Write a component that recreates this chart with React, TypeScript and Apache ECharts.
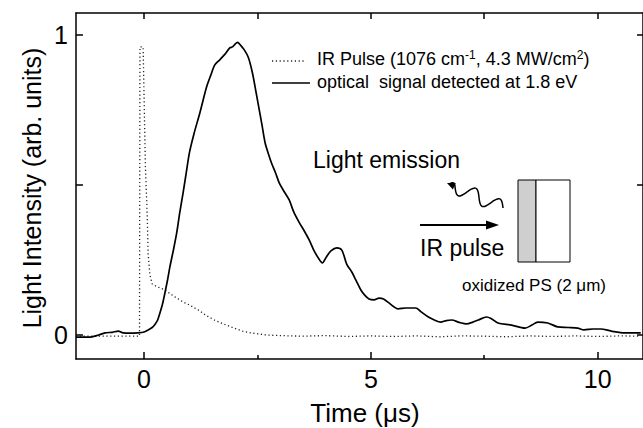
import React, { useEffect, useRef } from "react";
import * as echarts from "echarts";

// ---- data ----
const solidT = [-1.5, -1.3, -1.18, -1.0, -0.86, -0.7, -0.57, -0.46, -0.3, -0.15, 0.0, 0.09, 0.18, 0.24, 0.3, 0.35, 0.41, 0.46, 0.52, 0.57, 0.65, 0.72, 0.79, 0.86, 0.93, 1.0, 1.1, 1.23, 1.38, 1.47, 1.56, 1.67, 1.78, 1.89, 1.95, 2.0, 2.06, 2.13, 2.21, 2.3, 2.39, 2.48, 2.54, 2.6, 2.67, 2.75, 2.81, 2.9, 2.98, 3.08, 3.2, 3.3, 3.42, 3.52, 3.64, 3.75, 3.85, 3.93, 4.02, 4.12, 4.25, 4.36, 4.47, 4.58, 4.67, 4.78, 4.87, 4.96, 5.07, 5.18, 5.28, 5.39, 5.5, 5.6, 5.77, 5.99, 6.1, 6.27, 6.4, 6.54, 6.66, 6.78, 6.95, 7.11, 7.25, 7.37, 7.55, 7.65, 7.8, 8.1, 8.4, 8.55, 8.68, 8.9, 9.12, 9.35, 9.56, 9.7, 9.9, 10.07, 10.3, 10.6, 10.95];
const solidV = [-0.007, -0.007, -0.007, 0.0, 0.007, 0.009, 0.013, 0.007, 0.006, 0.007, 0.01, 0.017, 0.025, 0.035, 0.05, 0.073, 0.105, 0.14, 0.185, 0.227, 0.285, 0.34, 0.41, 0.473, 0.54, 0.607, 0.67, 0.74, 0.827, 0.865, 0.9, 0.917, 0.935, 0.957, 0.96, 0.968, 0.975, 0.965, 0.95, 0.925, 0.873, 0.8, 0.75, 0.7, 0.64, 0.6, 0.573, 0.54, 0.507, 0.48, 0.45, 0.41, 0.375, 0.35, 0.317, 0.28, 0.255, 0.24, 0.26, 0.28, 0.29, 0.283, 0.235, 0.21, 0.183, 0.15, 0.132, 0.12, 0.117, 0.123, 0.12, 0.108, 0.095, 0.087, 0.09, 0.09, 0.078, 0.06, 0.05, 0.043, 0.048, 0.05, 0.042, 0.037, 0.043, 0.05, 0.06, 0.055, 0.04, 0.033, 0.023, 0.033, 0.043, 0.04, 0.027, 0.025, 0.023, 0.017, 0.02, 0.02, 0.013, 0.007, 0.007];

const pulseT = [-1.5, -1.0, -0.5, -0.1, -0.09, -0.02, 0.0, 0.03, 0.07, 0.09, 0.13, 0.18, 0.3, 0.46, 0.65, 0.86, 1.0, 1.2, 1.37, 1.55, 1.73, 1.95, 2.17, 2.4, 2.7, 3.0, 3.5, 4.0, 4.5, 5.0, 5.5, 6.0, 6.5, 7.0, 7.5, 8.0, 8.5, 9.0, 9.5, 10.0, 10.5, 10.95];
const pulseV = [-0.004, -0.004, -0.004, -0.004, 0.96, 0.96, 0.8, 0.56, 0.4, 0.27, 0.2, 0.17, 0.16, 0.15, 0.13, 0.11, 0.1, 0.083, 0.065, 0.05, 0.038, 0.025, 0.013, 0.006, 0.0, -0.002, -0.004, -0.002, -0.005, -0.003, -0.005, -0.003, -0.006, -0.003, -0.004, -0.006, -0.003, -0.005, -0.003, -0.005, -0.003, -0.004];

const xMajorTicks = [0, 5, 10];
const xMinorTicks = [2.5, 7.5];
const xAllTicks = [0, 2.5, 5, 7.5, 10];
const yTicks = [0, 0.5, 1];
const yLabels = [0, 1];

const seriesNames = ["IR Pulse", "optical signal detected at 1.8 eV"];

const FONT = '"Liberation Sans", Arial, Helvetica, sans-serif';

function wavyPoints(): number[][] {
  const ax = 449, ay = 184, bx = 503, by = 208;
  const dx = ax - bx, dy = ay - by;
  const L = Math.sqrt(dx * dx + dy * dy);
  const ux = dx / L, uy = dy / L;
  const px = -uy, py = ux;
  const pts: number[][] = [];
  const n = 80;
  for (let i = 0; i <= n; i++) {
    const s = i / n;
    const env = s > 0.9 ? (1 - s) / 0.1 : 1;
    const amp = 7 * Math.sin(2 * Math.PI * 2.25 * s) * env;
    pts.push([bx + s * dx + amp * px, by + s * dy + amp * py]);
  }
  return pts;
}

export default function App() {
  const ref = useRef<HTMLDivElement>(null);
  useEffect(() => {
    if (!ref.current) return;
    const chart = echarts.init(ref.current, undefined, { renderer: "svg" });
    const solid = solidT.map((t, i) => [t, solidV[i]]);
    const pulse = pulseT.map((t, i) => [t, pulseV[i]]);
    const axisLineStyle = { color: "#000", width: 1.5 };
    const xBase = { type: "value", min: -1.5, max: 11, splitLine: { show: false } };
    const yBase = { type: "value", min: -0.08, max: 1.073, splitLine: { show: false } };

    const ax = 447, ay = 183;
    const ux = -0.914, uy = -0.406;
    const head = [
      [ax, ay],
      [ax - 8 * ux - 3.5 * uy, ay - 8 * uy + 3.5 * ux],
      [ax - 8 * ux + 3.5 * uy, ay - 8 * uy - 3.5 * ux],
    ];

    chart.setOption({
      animation: false,
      backgroundColor: "#fff",
      grid: { left: 76, top: 13, width: 570, height: 346 },
      xAxis: [
        {
          ...xBase, position: "bottom",
          axisLine: { show: true, onZero: false, lineStyle: axisLineStyle },
          axisTick: { show: true, inside: true, length: 7, customValues: xMajorTicks, lineStyle: { color: "#000", width: 1.5 } },
          axisLabel: { show: true, customValues: xMajorTicks, fontSize: 25, color: "#000", fontFamily: FONT, margin: 7 },
        },
        {
          ...xBase, position: "bottom",
          axisLine: { show: false, onZero: false },
          axisTick: { show: true, inside: true, length: 4, customValues: xMinorTicks, lineStyle: { color: "#000", width: 1.5 } },
          axisLabel: { show: false },
        },
        {
          ...xBase, position: "top",
          axisLine: { show: true, onZero: false, lineStyle: axisLineStyle },
          axisTick: { show: true, inside: true, length: 6, customValues: xAllTicks, lineStyle: { color: "#000", width: 1.5 } },
          axisLabel: { show: false },
        },
      ],
      yAxis: [
        {
          ...yBase, position: "left",
          axisLine: { show: true, onZero: false, lineStyle: axisLineStyle },
          axisTick: { show: true, inside: true, length: 7, customValues: yTicks, lineStyle: { color: "#000", width: 1.5 } },
          axisLabel: { show: true, customValues: yLabels, fontSize: 25, color: "#000", fontFamily: FONT, margin: 8 },
        },
        {
          ...yBase, position: "right",
          axisLine: { show: true, onZero: false, lineStyle: axisLineStyle },
          axisTick: { show: true, inside: true, length: 6, customValues: yTicks, lineStyle: { color: "#000", width: 1.5 } },
          axisLabel: { show: false },
        },
      ],
      series: [
        {
          name: seriesNames[0], type: "line", data: pulse, showSymbol: false, symbol: "none",
          xAxisIndex: 0, yAxisIndex: 0,
          lineStyle: { color: "#222", width: 1.3, type: [1.2, 2.6] },
        },
        {
          name: seriesNames[1], type: "line", data: solid, showSymbol: false, symbol: "none", smooth: 0.3,
          xAxisIndex: 0, yAxisIndex: 0,
          lineStyle: { color: "#000", width: 1.7 },
        },
      ],
      graphic: [
        { type: "line", shape: { x1: 272, y1: 61, x2: 305, y2: 61 }, style: { stroke: "#222", lineWidth: 1.3, lineDash: [1.2, 2.6] } },
        { type: "line", shape: { x1: 272, y1: 83, x2: 310, y2: 83 }, style: { stroke: "#000", lineWidth: 1.7 } },
        {
          type: "text", x: 317, y: 59,
          style: {
            text: "IR Pulse (1076 cm{sup|-1}, 4.3 MW/cm{sup|2})",
            fill: "#000", fontSize: 18, fontFamily: FONT, align: "left", verticalAlign: "middle",
            rich: { sup: { fontSize: 12, fontFamily: FONT, fill: "#000", verticalAlign: "top", padding: [0, 0, 8, 0] } },
          },
        },
        {
          type: "text", x: 317, y: 82,
          style: { text: "optical  signal detected at 1.8 eV", fill: "#000", fontSize: 18, fontFamily: FONT, align: "left", verticalAlign: "middle" },
        },
        { type: "text", x: 313, y: 160, style: { text: "Light emission", fill: "#000", fontSize: 23, fontFamily: FONT, align: "left", verticalAlign: "middle" } },
        { type: "polyline", shape: { points: wavyPoints(), smooth: 0.3 }, style: { stroke: "#000", fill: null, lineWidth: 1.5 } },
        { type: "polygon", shape: { points: head }, style: { fill: "#000" } },
        { type: "line", shape: { x1: 420, y1: 225, x2: 490, y2: 225 }, style: { stroke: "#000", lineWidth: 2.2 } },
        { type: "polygon", shape: { points: [[499, 225], [486, 220.5], [486, 229.5]] }, style: { fill: "#000" } },
        { type: "text", x: 420, y: 248, style: { text: "IR pulse", fill: "#000", fontSize: 23, fontFamily: FONT, align: "left", verticalAlign: "middle" } },
        { type: "rect", shape: { x: 518, y: 180, width: 18, height: 82 }, style: { fill: "#cfcfcf", stroke: "#000", lineWidth: 1 } },
        { type: "rect", shape: { x: 536, y: 180, width: 34, height: 82 }, style: { fill: "#fff", stroke: "#000", lineWidth: 1 } },
        { type: "text", x: 462, y: 285, style: { text: "oxidized PS (2 μm)", fill: "#000", fontSize: 17, fontFamily: FONT, align: "left", verticalAlign: "middle" } },
        { type: "text", x: 365, y: 413, style: { text: "Time (μs)", fill: "#000", fontSize: 26, fontFamily: FONT, align: "center", verticalAlign: "middle" } },
        { type: "text", x: 32, y: 188, rotation: Math.PI / 2, style: { text: "Light Intensity (arb. units)", fill: "#000", fontSize: 25, fontFamily: FONT, align: "center", verticalAlign: "middle" } },
      ],
    });
    return () => chart.dispose();
  }, []);
  return <div ref={ref} style={{ position: "fixed", left: 0, top: 0, width: 643, height: 428, background: "#fff" }} />;
}
